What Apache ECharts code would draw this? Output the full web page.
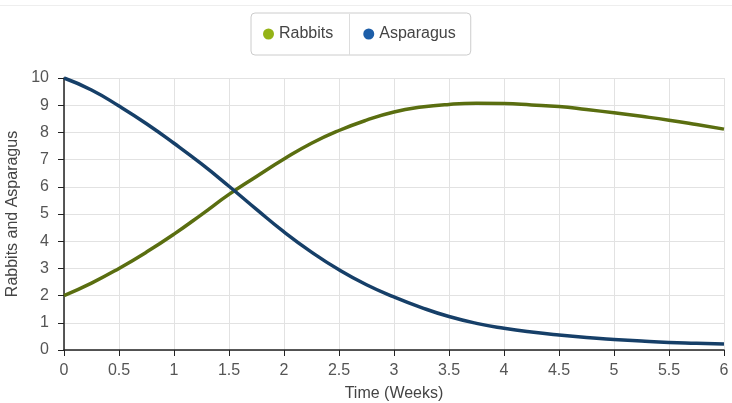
<!DOCTYPE html>
<html><head><meta charset="utf-8">
<script src="https://cdn.jsdelivr.net/npm/echarts@6/dist/echarts.min.js"></script>
<style>html,body{margin:0;padding:0;background:#fff}#c{width:732px;height:403px}</style>
</head><body><div id="c"></div>
<script>
const times = [0,0.25,0.5,0.75,1,1.25,1.5,1.75,2,2.25,2.5,2.75,3,3.25,3.5,3.75,4,4.25,4.5,4.75,5,5.25,5.5,5.75,6];
const rabbits = [2.0,2.46,3.0,3.6,4.26,4.98,5.72,6.38,7.02,7.6,8.07,8.45,8.75,8.93,9.03,9.07,9.06,9.01,8.95,8.84,8.72,8.59,8.45,8.29,8.12];
const asparagus = [10.0,9.56,8.97,8.32,7.6,6.84,6.02,5.17,4.34,3.6,2.95,2.4,1.95,1.56,1.23,0.98,0.8,0.66,0.55,0.46,0.39,0.33,0.28,0.25,0.22];
const xTicks = ['0','0.5','1','1.5','2','2.5','3','3.5','4','4.5','5','5.5','6'];
const seriesNames = ['Rabbits','Asparagus'];

const font = '"Liberation Sans", Arial, sans-serif';
const chart = echarts.init(document.getElementById('c'));
chart.setOption({
  animation: false,
  textStyle: {fontFamily: font},
  graphic: [
    {type:'line', shape:{x1:0,y1:5.5,x2:732,y2:5.5}, style:{stroke:'#eeeeee',lineWidth:1}},
    {type:'line', shape:{x1:349.5,y1:14,x2:349.5,y2:55}, style:{stroke:'#dddddd',lineWidth:1}, z:100}
  ],
  legend: {
    data: [
      {name: seriesNames[0], itemStyle:{color:'#94b316'}},
      {name: seriesNames[1], itemStyle:{color:'#1d5ea8'}}
    ],
    left: 251, top: 13,
    padding: [13, 15, 13, 12],
    itemGap: 30,
    itemWidth: 11, itemHeight: 11,
    icon: 'circle',
    borderColor: '#cccccc', borderWidth: 1, borderRadius: 4,
    textStyle: {fontSize: 16, color: '#444', fontFamily: font}
  },
  grid: {left: 64, right: 8, top: 78, bottom: 53, containLabel: false, outerBoundsMode: 'none'},
  xAxis: {
    type: 'value', min: 0, max: 6, interval: 0.5,
    name: 'Time (Weeks)', nameLocation: 'middle', nameGap: 36,
    nameTextStyle: {fontSize: 16, color: '#444'},
    axisLine: {lineStyle: {color: '#222', width: 1.5}},
    axisTick: {show: true, length: 6, lineStyle: {color: '#222'}},
    axisLabel: {fontSize: 16, color: '#555', margin: 13, formatter: v => xTicks[Math.round(v*2)] ?? String(v)},
    splitLine: {show: true, lineStyle: {color: '#e2e2e2', width: 1}}
  },
  yAxis: {
    type: 'value', min: 0, max: 10, interval: 1,
    name: 'Rabbits and Asparagus', nameLocation: 'middle', nameGap: 41, nameRotate: 90,
    nameTextStyle: {fontSize: 16, color: '#444'},
    axisLine: {show: true, lineStyle: {color: '#222', width: 1.5}},
    axisTick: {show: true, length: 6, lineStyle: {color: '#222'}},
    axisLabel: {fontSize: 16, color: '#555', margin: 15},
    splitLine: {show: true, lineStyle: {color: '#e2e2e2', width: 1}}
  },
  series: [
    {name: seriesNames[0], type: 'line', smooth: 0.5, showSymbol: false, symbol: 'none',
     color: '#94b316',
     lineStyle: {color: '#5a6e10', width: 3.5},
     data: times.map((t,i)=>[t, rabbits[i]])},
    {name: seriesNames[1], type: 'line', smooth: 0.5, showSymbol: false, symbol: 'none',
     color: '#1d5ea8',
     lineStyle: {color: '#163f68', width: 3.5},
     data: times.map((t,i)=>[t, asparagus[i]])}
  ]
});
</script></body></html>
